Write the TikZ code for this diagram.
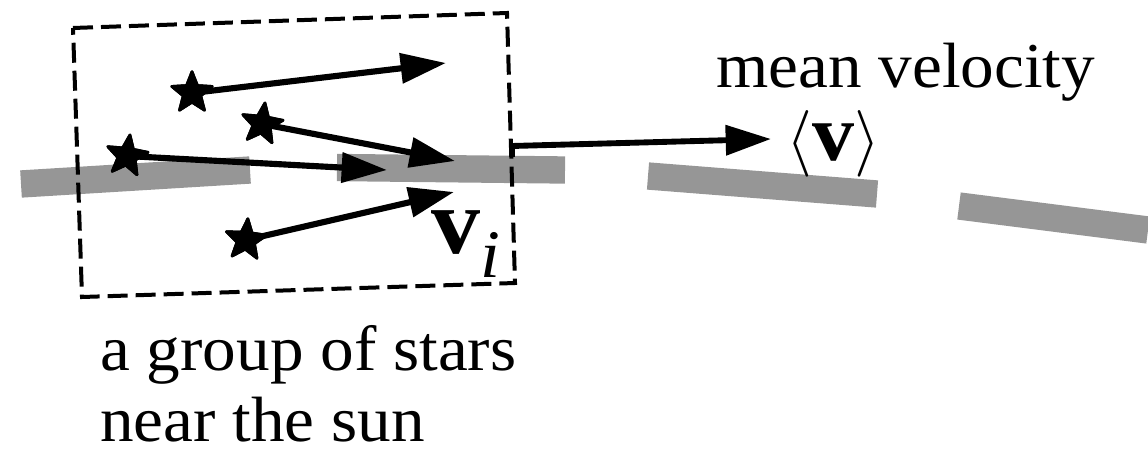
\RequirePackage{fix-cm}
\documentclass[tikz,border=0pt]{standalone}
\usepackage{fontspec}
\setmainfont{Liberation Serif}[FakeStretch=1.05]
\usetikzlibrary{arrows.meta,shapes.geometric}
\definecolor{roadgray}{RGB}{150,150,150}
\begin{document}
\begin{tikzpicture}[x=0.75pt,y=-0.75pt,
  road/.style={line width=20.5pt, draw=roadgray, line cap=butt},
  vel/.style={line width=4.6pt, -{Triangle[length=34pt,width=22pt]}},
  starnode/.style={star, star points=5, star point ratio=2.3, fill=black, draw=black,
    line width=2pt, line join=round, minimum size=32pt, inner sep=0pt},
  groupbox/.style={line width=3pt, dash pattern=on 15pt off 6pt},
  lbl/.style={inner sep=0pt, font=\fontsize{48}{53}\selectfont}
]
\useasboundingbox (0,0) rectangle (1148,456);
% orbit (dashed grey arc)
\draw[road] (21,184) -- (250,170);
\draw[road] (337,167.5) -- (565,170);
\draw[road] (648,176) -- (877,194);
\draw[road] (959,206) -- (1148,230);
% group box
\coordinate (b1) at (73,28);
\coordinate (b2) at (507,13);
\coordinate (b3) at (515,283);
\coordinate (b4) at (82,297);
\draw[groupbox] (b1) -- (b2) -- (b3) -- (b4) -- cycle;
% stars
\node[starnode] (sA) at (192,93) {};
\node[starnode, shape border rotate=-8] (sB) at (262,124) {};
\node[starnode, shape border rotate=-8] (sC) at (127,156) {};
\node[starnode, shape border rotate=-5] (sD) at (246,240) {};
% velocity tips
\coordinate (tA) at (446,63);
\coordinate (tB) at (455,161);
\coordinate (tC) at (387,170);
\coordinate (tD) at (454,192);
\draw[vel] (sA.center) -- (tA);
\draw[vel] (sB.center) -- (tB);
\draw[vel] (sC.center) -- (tC);
\draw[vel] (sD.center) -- (tD);
\node[starnode] at (sA) {};
\node[starnode, shape border rotate=-8] at (sB) {};
\node[starnode, shape border rotate=-8] at (sC) {};
\node[starnode, shape border rotate=-5] at (sD) {};
% mean velocity arrow
\coordinate (mS) at (512,157);
\coordinate (mT) at (771,139);
\draw[vel, line width=4.4pt] (mS) -- ++(0,-11) -- (mT);
% labels
\node[lbl, anchor=base west] (mv) at (716,88) {mean velocity};
\node[anchor=base west, inner sep=0pt] (vmean) at (786,161)
  {\fontsize{50}{50}\selectfont$\langle$\fontsize{60}{60}\selectfont\textbf{v}\fontsize{50}{50}\selectfont$\rangle$};
\node[anchor=base west, inner sep=0pt] (vi) at (431,253)
  {\fontsize{70}{70}\selectfont\textbf{v}\raisebox{-18pt}{\fontsize{51}{51}\selectfont\textit{i}}};
\node[lbl, anchor=base west] (g1) at (100,370) {a group of stars};
\node[lbl, anchor=base west] (g2) at (100,441) {near the sun};
\end{tikzpicture}
\end{document}
